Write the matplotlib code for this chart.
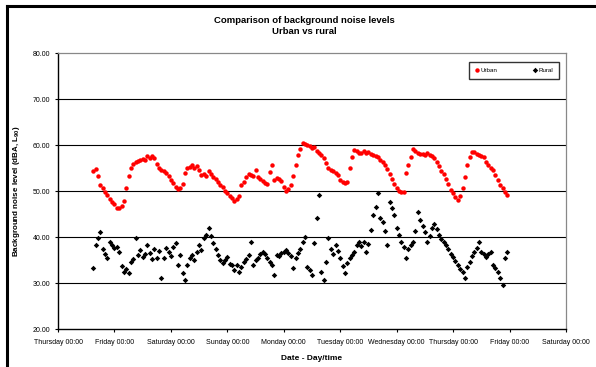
import numpy as np
import matplotlib.pyplot as plt
from matplotlib.lines import Line2D

plt.rcParams['font.family'] = ['Liberation Sans', 'DejaVu Sans']
plt.rcParams['mathtext.fontset'] = 'custom'
plt.rcParams['mathtext.rm'] = 'Liberation Sans'
plt.rcParams['mathtext.bf'] = 'Liberation Sans:bold'

# hourly readings, hours counted from Thursday 00:00
start_hour = 15
day_labels = ['Thursday 00:00', 'Friday 00:00', 'Saturday 00:00', 'Sunday 00:00',
              'Monday 00:00', 'Tuesday 00:00', 'Wednesday 00:00', 'Thursday 00:00',
              'Friday 00:00', 'Saturday 00:00']
y_ticks = [20, 30, 40, 50, 60, 70, 80]

urban = [
    54.4, 54.7, 53.2, 51.4, 50.6, 49.8, 49.2, 48.3, 47.6, 47.1,
    46.4, 46.2, 46.8, 47.9, 50.6, 53.3, 55.0, 55.9, 56.3, 56.6,
    56.7, 57.0, 56.8, 57.6, 57.2, 57.7, 57.1, 55.9, 55.1, 54.6,
    54.4, 53.9, 53.2, 52.4, 51.8, 50.9, 50.4, 50.6, 51.6, 53.9,
    55.0, 55.3, 55.6, 55.1, 55.4, 54.6, 53.4, 53.8, 53.2, 54.3,
    53.8, 53.1, 52.7, 51.9, 51.3, 50.8, 50.1, 49.5, 49.0, 48.5,
    47.9, 48.3, 48.9, 51.2, 52.0, 53.0, 53.8, 53.5, 53.2, 54.6,
    53.0, 52.6, 52.1, 51.8, 51.5, 54.2, 55.7, 52.4, 52.8, 52.6,
    52.2, 50.9, 50.1, 50.4, 51.4, 53.3, 55.6, 57.8, 59.2, 60.5,
    60.3, 60.0, 59.8, 59.3, 59.6, 58.8, 58.3, 57.9, 57.2, 56.1,
    55.0, 54.6, 54.4, 53.9, 53.5, 52.4, 51.9, 51.8, 51.9, 55.0,
    57.4, 58.9, 58.6, 58.3, 58.2, 58.6, 58.3, 58.5, 58.0, 57.8,
    57.6, 57.3, 56.8, 56.2, 55.7, 54.8, 53.6, 52.6, 51.5, 50.6,
    49.9, 49.7, 49.8, 53.9, 55.7, 57.3, 59.1, 58.7, 58.3, 58.0,
    58.1, 57.8, 58.2, 57.9, 57.6, 57.2, 56.4, 55.4, 54.4, 53.6,
    52.6, 51.6, 50.3, 49.5, 48.7, 48.1, 48.9, 50.6, 53.0, 55.6,
    57.3, 58.5, 58.4, 58.0, 57.9, 57.7, 57.5, 56.3, 55.6, 55.1,
    54.5, 53.4, 52.3, 51.4, 50.6, 49.8, 49.2,
]

rural = [
    33.2, 38.3, 39.7, 41.0, 37.4, 36.2, 35.4, 39.0, 38.3, 37.6,
    37.9, 36.8, 33.6, 32.5, 33.1, 32.1, 34.6, 35.2, 39.7, 36.1,
    37.2, 35.7, 36.4, 38.3, 36.5, 35.3, 37.5, 35.4, 36.9, 31.0,
    35.4, 37.6, 36.8, 35.9, 37.9, 38.6, 33.9, 36.0, 32.1, 30.7,
    33.9, 35.4, 36.1, 35.0, 36.8, 38.3, 37.2, 39.7, 40.5, 41.9,
    40.2, 38.6, 37.3, 36.1, 35.0, 34.4, 35.1, 35.7, 34.2, 33.9,
    32.8, 33.9, 32.5, 33.4, 34.6, 35.2, 36.1, 39.0, 33.9, 35.0,
    35.4, 36.2, 36.8, 36.4, 35.4, 34.5, 33.9, 31.7, 36.1, 35.8,
    36.6, 36.8, 37.2, 36.5, 35.9, 33.2, 35.4, 36.6, 37.5, 38.9,
    40.1, 33.5, 32.8, 31.7, 38.6, 44.1, 49.1, 32.5, 30.7, 34.6,
    39.7, 37.5, 36.4, 38.3, 37.0, 35.4, 33.6, 32.1, 34.3, 35.4,
    36.0, 36.8, 38.2, 39.0, 38.1, 39.0, 36.8, 38.4, 41.5, 44.8,
    46.6, 49.5, 44.1, 43.3, 41.2, 38.3, 47.7, 46.2, 44.8, 41.9,
    40.4, 39.0, 37.8, 35.4, 37.5, 38.2, 39.0, 41.2, 45.5, 43.7,
    42.4, 41.1, 39.0, 40.2, 41.9, 42.9, 41.7, 40.4, 39.6, 39.0,
    38.2, 37.5, 36.3, 35.7, 34.8, 33.9, 33.0, 32.5, 31.0, 33.4,
    34.6, 35.8, 36.8, 37.6, 39.0, 36.8, 36.2, 35.7, 36.3, 36.8,
    33.9, 33.2, 32.4, 31.0, 29.6, 35.4, 36.8,
]

hours = np.arange(start_hour, start_hour + len(urban))
days = hours / 24.0

fig = plt.figure(figsize=(5.96, 3.67), dpi=100)
ax = fig.add_axes([58 / 596, 1 - 329 / 367, 508 / 596, 276 / 367])

# gridlines behind the points
for v in y_ticks[1:-1]:
    ax.axhline(v, color='black', lw=0.8, zorder=1)

ax.plot(days, urban, 'o', color='#ff0000', markersize=3.2, markeredgewidth=0,
        label='Urban', zorder=3)
ax.plot(days, rural, 'D', color='black', markersize=2.8, markeredgewidth=0,
        label='Rural', zorder=3)

ax.set_xlim(0, 9)
ax.set_ylim(20, 80)
ax.set_xticks(range(len(day_labels)))
ax.set_xticklabels(day_labels)
ax.set_yticks(y_ticks)
ax.set_yticklabels(['%.2f' % v for v in y_ticks])
ax.tick_params(axis='both', labelsize=5, length=2.5, width=0.8, direction='out', pad=3)
ax.tick_params(axis='x', pad=5)

ax.spines['left'].set_color('black')
ax.spines['bottom'].set_color('black')
ax.spines['left'].set_linewidth(1.0)
ax.spines['bottom'].set_linewidth(1.0)
ax.spines['top'].set_color('#888888')
ax.spines['right'].set_color('#888888')
ax.spines['top'].set_linewidth(0.9)
ax.spines['right'].set_linewidth(0.9)

ax.set_xlabel('Date - Day/time', fontsize=6, fontweight='bold', labelpad=6)
ax.set_ylabel(r'Background noise level (dBA, L$_{\mathbf{90}}$)', fontsize=5.8,
              fontweight='bold')
ax.yaxis.set_label_coords((22 - 58) / 508, 0.5)

fig.text(304 / 596, 1 - 26 / 367, 'Comparison of background noise levels\nUrban vs rural',
         ha='center', va='center', fontsize=6.8, fontweight='bold', linespacing=1.3)

leg = ax.legend(loc='upper right', ncol=2, fontsize=4.5, frameon=True, fancybox=False,
                bbox_to_anchor=(1 - 4 / 508, 1 - 6 / 276), borderpad=0.9,
                handletextpad=0.05, columnspacing=5.5, handlelength=1.0,
                markerscale=1.0)
leg.get_frame().set_edgecolor('black')
leg.get_frame().set_linewidth(1.0)

# outer chart frame (left and top edges)
fig.add_artist(Line2D([6.5 / 596, 6.5 / 596], [0, 1 - 5.5 / 367], color='black', lw=2.2))
fig.add_artist(Line2D([6.5 / 596, 1], [1 - 5.5 / 367, 1 - 5.5 / 367], color='black', lw=2.2))

fig.savefig('out.png', dpi=100)
